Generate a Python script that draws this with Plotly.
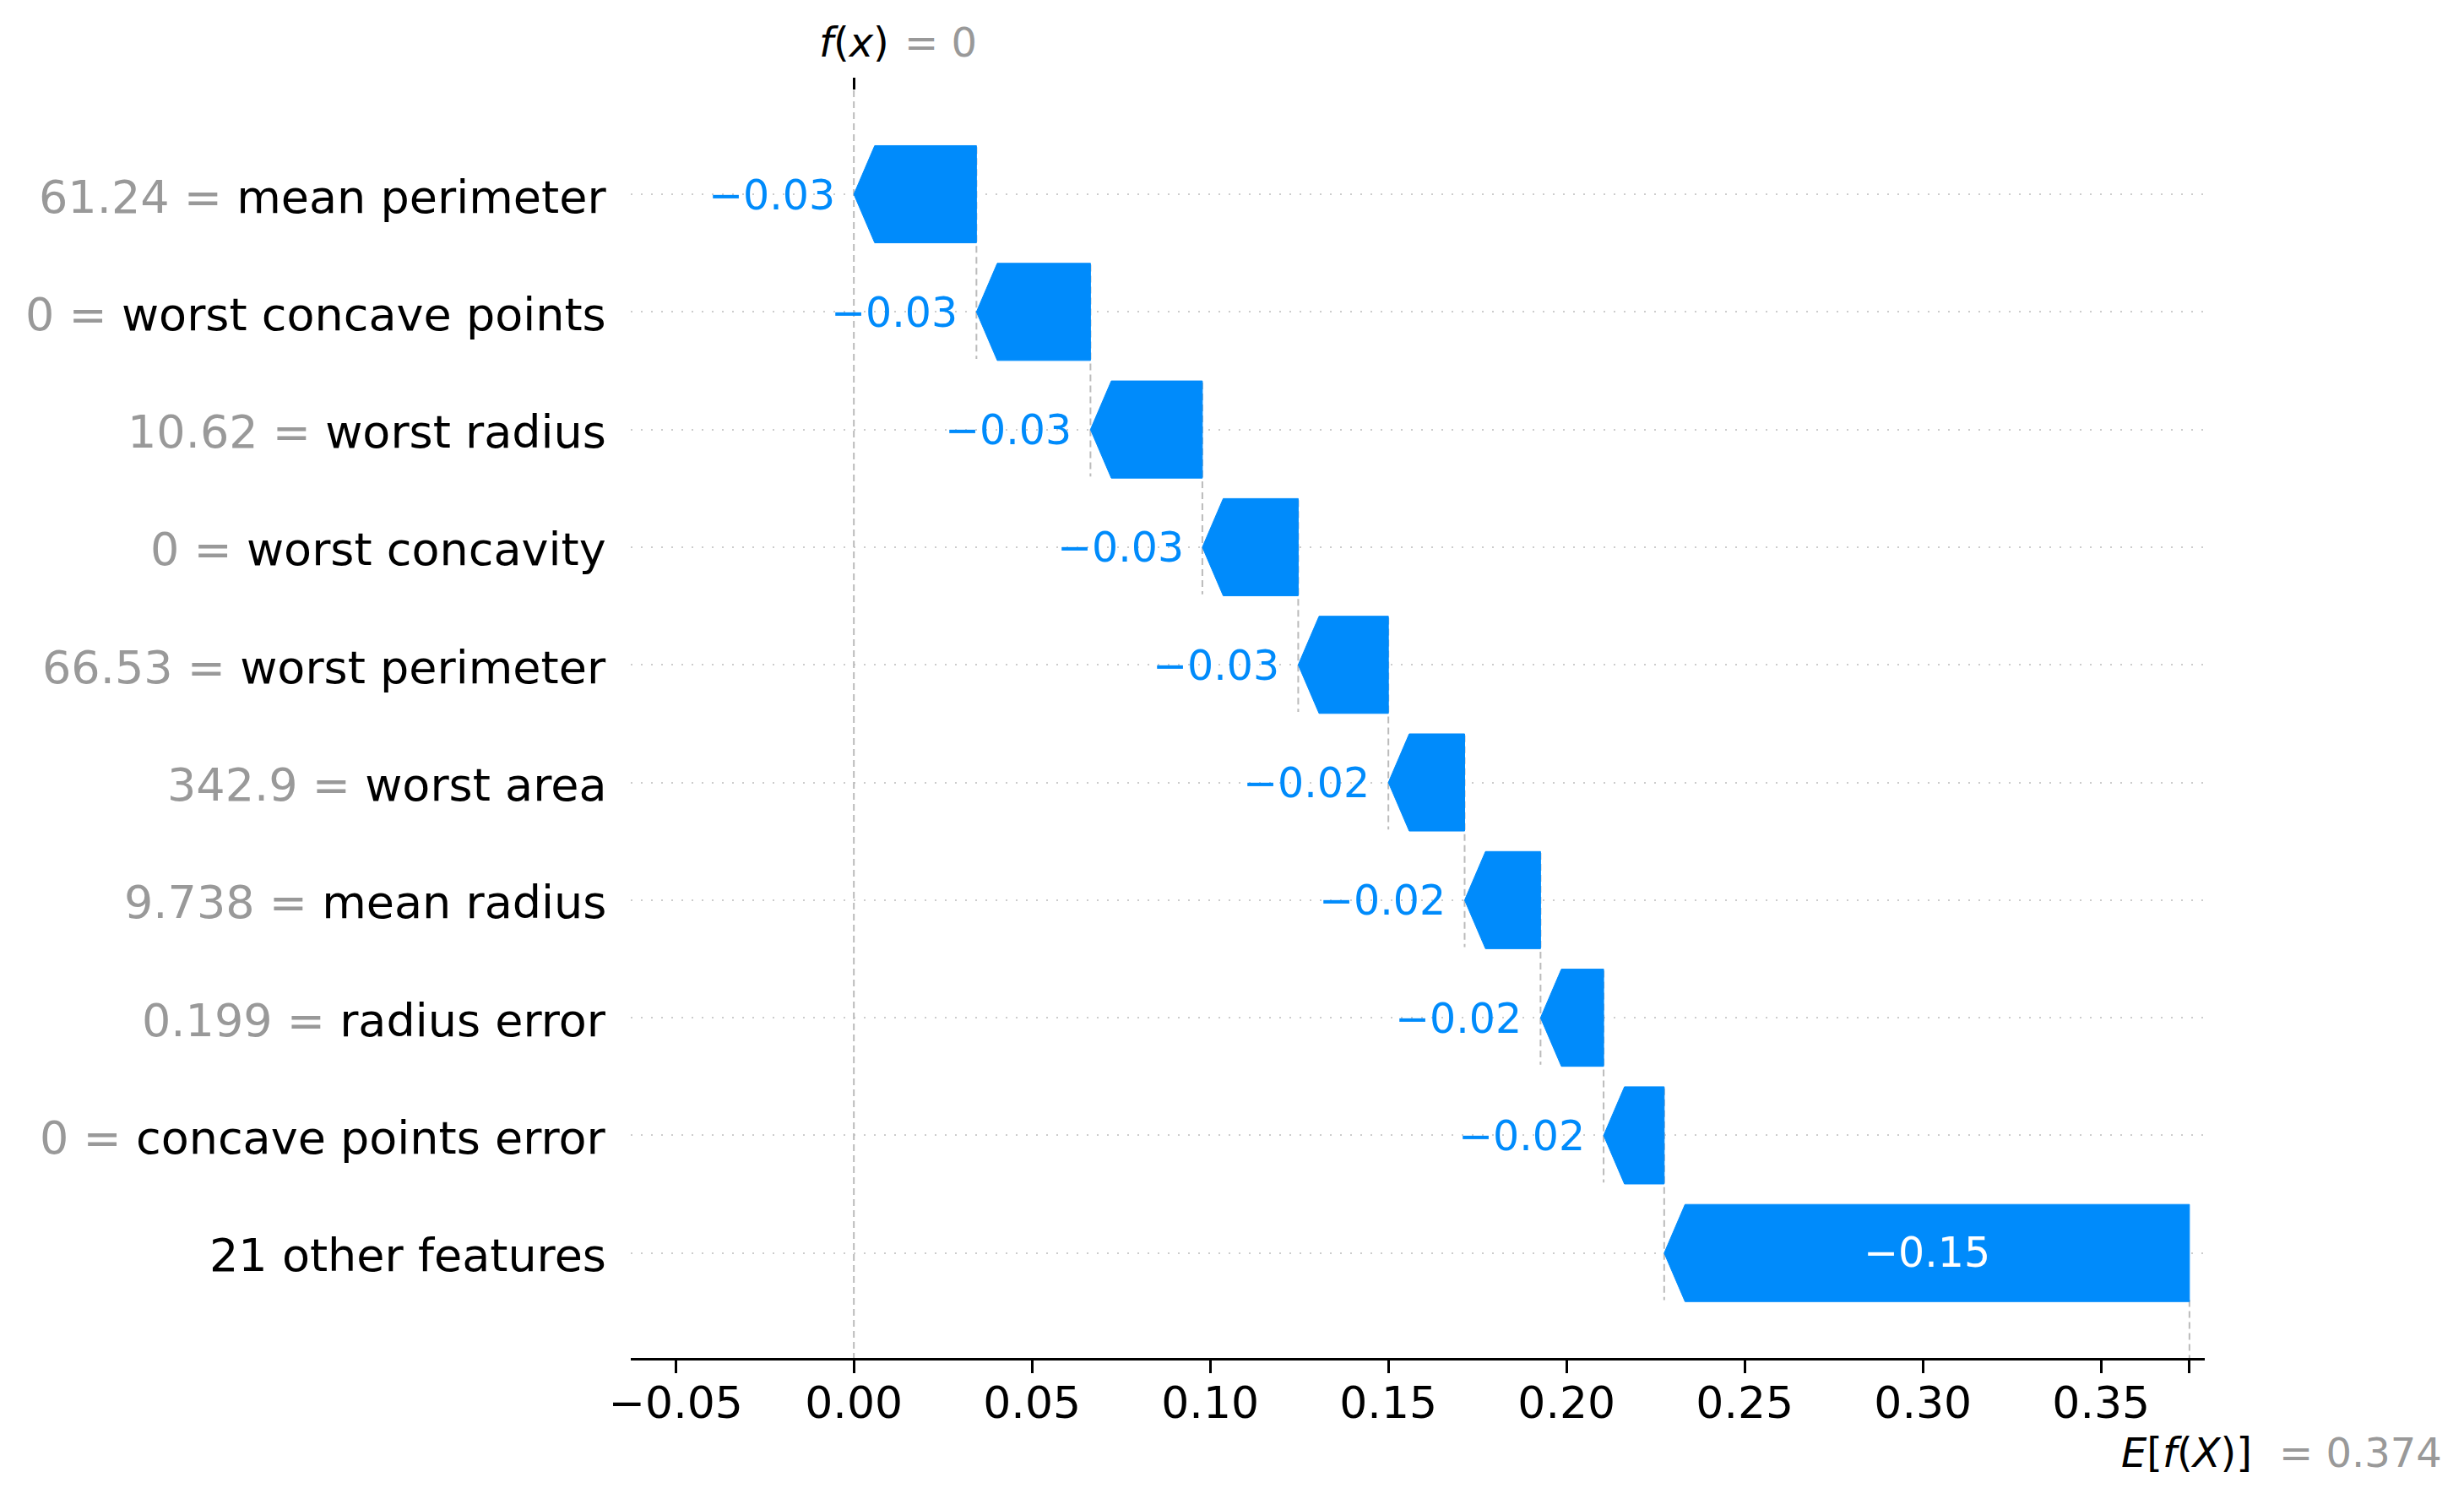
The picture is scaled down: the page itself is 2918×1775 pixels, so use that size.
import plotly.graph_objects as go

# ---------------- data ----------------
features = ["mean perimeter", "worst concave points", "worst radius", "worst concavity",
            "worst perimeter", "worst area", "mean radius", "radius error",
            "concave points error", "21 other features"]
feature_values = ["61.24", "0", "10.62", "0", "66.53", "342.9", "9.738", "0.199", "0", ""]
shap_values = [-0.0344, -0.0320, -0.0314, -0.0269, -0.0253, -0.0214, -0.0213,
               -0.0177, -0.0170, -0.1474]
bar_labels = ["\u22120.03", "\u22120.03", "\u22120.03", "\u22120.03", "\u22120.03",
              "\u22120.02", "\u22120.02", "\u22120.02", "\u22120.02", "\u22120.15"]
base_value = 0.3748
base_label = "0.374"
fx_label = "0"
x_tick_vals = [-0.05, 0.0, 0.05, 0.10, 0.15, 0.20, 0.25, 0.30, 0.35]
x_tick_text = ["\u22120.05", "0.00", "0.05", "0.10", "0.15", "0.20", "0.25", "0.30", "0.35"]

# ---------------- style ----------------
BLUE = "#008bfb"
GRAY_TXT = "#999999"
FONT = "DejaVu Sans"
HALF_H = 0.413      # half bar height in row units
HEAD = 0.00585      # arrow head length in x units
X_RANGE = [-0.0626, 0.3791]
Y_RANGE = [9.892, -0.883]

n = len(features)
rows = list(range(n))

# cumulative positions: start (right edge) and end (tip) of each arrow
starts = [0.0] * n
ends = [0.0] * n
cur = base_value
for i in range(n - 1, -1, -1):
    starts[i] = cur
    cur = cur + shap_values[i]
    ends[i] = cur
fx = ends[0]

fig = go.Figure()

dash_style = dict(color="#bbbbbb", width=2, dash="8px,5px")

# f(x) dashed line (full height)
fig.add_trace(go.Scatter(x=[fx, fx], y=[Y_RANGE[1], Y_RANGE[0]], mode="lines",
                         line=dash_style, hoverinfo="skip", showlegend=False))
# connectors between consecutive rows
for i in range(n - 1):
    xv = starts[i]
    fig.add_trace(go.Scatter(x=[xv, xv], y=[rows[i] - 0.4, rows[i + 1] + 0.4], mode="lines",
                             line=dash_style, hoverinfo="skip", showlegend=False))
# base value line
fig.add_trace(go.Scatter(x=[base_value, base_value], y=[rows[-1] + 0.4, Y_RANGE[0]], mode="lines",
                         line=dash_style, hoverinfo="skip", showlegend=False))

# arrows
for i in range(n):
    s, e, y = starts[i], ends[i], rows[i]
    hl = min(HEAD, abs(s - e))
    if s >= e:  # negative contribution: points left
        xs = [s, e + hl, e, e + hl, s, s]
    else:
        xs = [s, e - hl, e, e - hl, s, s]
    ys = [y - HALF_H, y - HALF_H, y, y + HALF_H, y + HALF_H, y - HALF_H]
    fig.add_trace(go.Scatter(x=xs, y=ys, mode="lines", fill="toself", fillcolor=BLUE,
                             line=dict(color=BLUE, width=1), hoverinfo="skip", showlegend=False))

annotations = []
# bar value labels
for i in range(n):
    s, e, y = starts[i], ends[i], rows[i]
    width_px = abs(s - e) / (X_RANGE[1] - X_RANGE[0]) * 1864
    if width_px > 250:
        annotations.append(dict(x=(s + e) / 2, y=y, xref="x", yref="y", text=bar_labels[i],
                                showarrow=False, xanchor="center", yanchor="middle",
                                font=dict(family=FONT, size=49, color="white")))
    else:
        annotations.append(dict(x=min(s, e), y=y, xref="x", yref="y", text=bar_labels[i],
                                showarrow=False, xanchor="right", yanchor="middle", xshift=-20,
                                yshift=-1,
                                font=dict(family=FONT, size=49, color=BLUE)))

# feature labels
for i in range(n):
    if feature_values[i] != "":
        txt = f"<span style='color:{GRAY_TXT}'>{feature_values[i]} = </span>{features[i]}"
    else:
        txt = features[i]
    annotations.append(dict(x=0, y=rows[i], xref="paper", yref="y", text=txt, showarrow=False,
                            xanchor="right", yanchor="middle", xshift=-27, yshift=-3,
                            font=dict(family=FONT, size=54, color="black")))

# f(x) label at top
annotations.append(dict(x=fx, y=1, xref="x", yref="paper", text="<i>f</i>(<i>x</i>)",
                        showarrow=False, xanchor="center", yanchor="middle", yshift=57,
                        font=dict(family=FONT, size=48, color="black")))
annotations.append(dict(x=fx, y=1, xref="x", yref="paper", text="= " + fx_label,
                        showarrow=False, xanchor="left", yanchor="middle", yshift=57, xshift=58,
                        font=dict(family=FONT, size=48, color=GRAY_TXT)))
# E[f(X)] label at bottom
annotations.append(dict(x=base_value, y=0, xref="x", yref="paper",
                        text="<i>E</i>[<i>f</i>(<i>X</i>)]",
                        showarrow=False, xanchor="center", yanchor="middle", yshift=-112, xshift=-3,
                        font=dict(family=FONT, size=48, color="black")))
annotations.append(dict(x=base_value, y=0, xref="x", yref="paper", text="= " + base_label,
                        showarrow=False, xanchor="left", yanchor="middle", yshift=-112, xshift=104,
                        font=dict(family=FONT, size=48, color=GRAY_TXT)))

# invisible trace to activate the top axis
fig.add_trace(go.Scatter(x=[fx], y=[0], xaxis="x2", mode="markers", marker=dict(opacity=0),
                         hoverinfo="skip", showlegend=False))

fig.update_layout(
    width=2918, height=1775,
    margin=dict(l=747, r=307, t=107, b=167, pad=0),
    paper_bgcolor="white", plot_bgcolor="white",
    font=dict(family=FONT, color="black"),
    showlegend=False,
    annotations=annotations,
    xaxis=dict(range=X_RANGE, tickvals=x_tick_vals + [base_value], ticktext=x_tick_text + [""],
               ticks="outside", ticklen=15, tickwidth=3, tickcolor="black",
               ticklabelstandoff=-9,
               showline=True, linecolor="black", linewidth=3,
               showgrid=False, zeroline=False,
               tickfont=dict(family=FONT, size=52, color="black")),
    xaxis2=dict(range=X_RANGE, overlaying="x", side="top", tickvals=[fx], ticktext=[""],
                ticks="outside", ticklen=14, tickwidth=3, tickcolor="black",
                showline=False, showgrid=False, zeroline=False),
    yaxis=dict(range=Y_RANGE, tickvals=rows, showticklabels=False, ticks="",
               showgrid=True, gridcolor="#cccccc", gridwidth=2, griddash="2px,10px",
               zeroline=False, showline=False),
)

fig.write_html("out.html")
